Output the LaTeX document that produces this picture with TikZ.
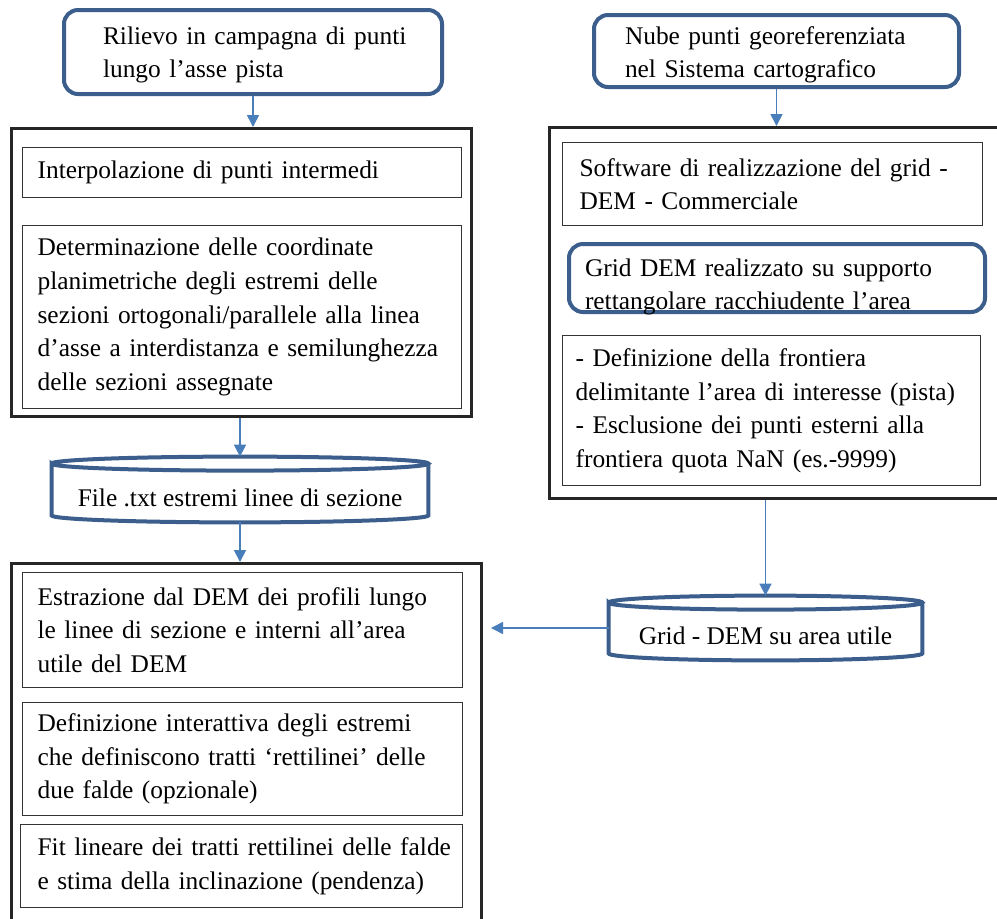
\documentclass[tikz,border=0pt]{standalone}
\usepackage{fontspec}
\setmainfont{Liberation Serif}
\usetikzlibrary{calc, arrows.meta}
\definecolor{bordo}{HTML}{3B5E8C}
\definecolor{freccia}{HTML}{4A7EBB}

\begin{document}
\begin{tikzpicture}[x=1pt, y=-1pt, font=\fontsize{12.7}{16.8}\selectfont,
    blocco/.style={draw=black!85, line width=1.5pt, anchor=north west, inner sep=0pt},
    testo/.style={draw=black!80, line width=0.6pt, anchor=north west, align=left, inner sep=0pt},
    arrot/.style={draw=bordo, line width=2pt, rounded corners=7pt, anchor=north west, align=left, inner sep=0pt},
    archivio/.style={inner sep=0pt, text height=16.5pt, text depth=0pt},
    flow/.style={color=freccia, line width=0.8pt, -{Triangle[length=6pt, width=6pt]}}]
   \useasboundingbox (0,0) rectangle (498.5,459);

   % dati di partenza
   \node[arrot, minimum width=189pt, minimum height=42pt, text width=150pt,
         text height=10pt, text depth=18pt] (rilievo) at (31,4)
      {\mbox{Rilievo in campagna di punti}\\lungo l’asse pista};
   \node[arrot, minimum width=182.5pt, minimum height=36pt, text width=151.5pt,
         text height=10pt, text depth=17pt] (nube) at (296,6.5)
      {Nube punti georeferenziata\\nel Sistema cartografico};

   % colonna sinistra: linee di sezione
   \node[blocco, minimum width=230pt, minimum height=144pt] (procA) at (5,63.5) {};
   \node[testo, minimum width=219.5pt, minimum height=25pt, text width=204.5pt] (interp) at (11,73.5)
      {Interpolazione di punti intermedi};
   \node[testo, minimum width=219.5pt, minimum height=91.5pt, text width=204.5pt] (determ) at (11,112.5)
      {Determinazione delle coordinate\\planimetriche degli estremi delle\\sezioni ortogonali/parallele alla linea\\d’asse a interdistanza e semilunghezza\\delle sezioni assegnate};
   \node[archivio, minimum width=188pt, minimum height=32.5pt] (fileTxt) at (120,244.75)
      {File .txt estremi linee di sezione};

   % colonna destra: DEM
   \node[blocco, minimum width=240pt, minimum height=185.5pt] (procB) at (274,63) {};
   \node[testo, minimum width=210pt, minimum height=41.5pt, text width=193pt] (software) at (281,71)
      {Software di realizzazione del grid -\\DEM - Commerciale};
   \node[arrot, minimum width=208pt, minimum height=34pt, text width=192pt,
         text height=10pt, text depth=12pt] (gridDem) at (283.5,121)
      {Grid DEM realizzato su supporto\\rettangolare racchiudente l’area};
   \node[testo, minimum width=209pt, minimum height=75pt, text width=196pt] (frontiera) at (281,167.5)
      {- Definizione della frontiera\\delimitante l’area di interesse (pista)\\- Esclusione dei punti esterni alla\\frontiera quota NaN (es.-9999)};
   \node[archivio, minimum width=156.5pt, minimum height=32pt] (gridUtile) at (382.75,314)
      {Grid - DEM su area utile};

   % profili e pendenze
   \node[blocco, minimum width=235pt, minimum height=200pt] (procC) at (5,281) {};
   \node[testo, minimum width=220pt, minimum height=57.5pt, text width=205pt] (estraz) at (11,286)
      {Estrazione dal DEM dei profili lungo\\le linee di sezione e interni all’area\\utile del DEM};
   \node[testo, minimum width=220pt, minimum height=56.5pt, text width=205pt] (definiz) at (11,351)
      {Definizione interattiva degli estremi\\che definiscono tratti ‘rettilinei’ delle\\due falde (opzionale)};
   \node[testo, minimum width=221pt, minimum height=41.5pt, text width=204pt] (fitlin) at (10,412)
      {\mbox{Fit lineare dei tratti rettilinei delle falde}\\e stima della inclinazione (pendenza)};

   % contorno a cilindro dei due archivi
   \foreach \c in {fileTxt, gridUtile}
     \draw[draw=bordo, line width=2pt]
       let \p1=(\c.north west), \p2=(\c.south east) in
       ({\x1},{\y1-3.5pt}) arc[start angle=180, end angle=-180, x radius={(\x2-\x1)/2}, y radius=3.5pt]
       -- ({\x1},{\y2+3.5pt}) arc[start angle=180, end angle=360, x radius={(\x2-\x1)/2}, y radius=3.5pt]
       -- ({\x2},{\y1-3.5pt});

   \path[flow]
    (rilievo.south) edge (rilievo.south |- procA.north)
    (nube.south) edge (nube.south |- procB.north)
    (procA.south -| fileTxt.north) edge (fileTxt.north)
    (fileTxt.south) edge (fileTxt.south |- procC.north)
    (procB.south -| gridUtile.north) edge (gridUtile.north)
    (gridUtile.west) edge ([xshift=4pt]gridUtile.west -| procC.east)
    ;
\end{tikzpicture}
\end{document}
